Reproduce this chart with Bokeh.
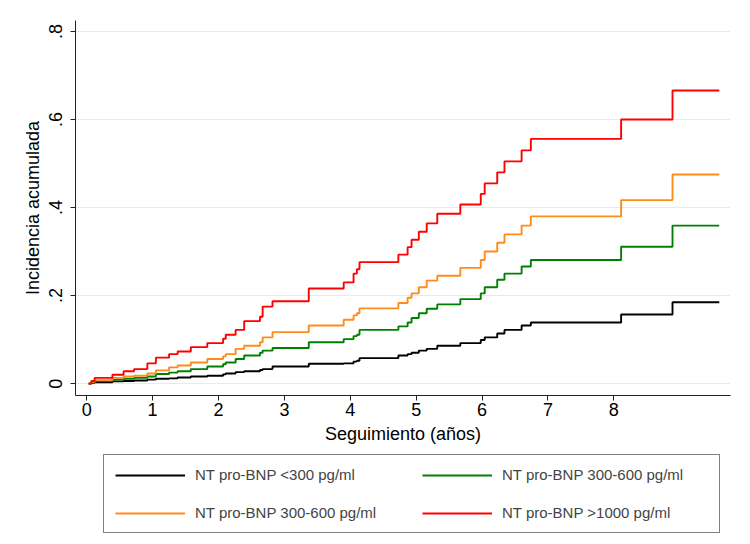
import math
from bokeh.plotting import figure
from bokeh.layouts import column
from bokeh.models import Range1d, Legend, LegendItem, FixedTicker, CustomJSTickFormatter
from bokeh.embed import file_html
from bokeh.resources import INLINE

# step times (years) - value after each step; last entry is end of follow-up
times = [0.03, 0.07, 0.12, 0.39, 0.56, 0.72, 0.92, 1.05, 1.25, 1.38,
         1.58, 1.83, 2.07, 2.11, 2.26, 2.39, 2.63, 2.67, 2.82, 3.37,
         3.90, 4.05, 4.10, 4.14, 4.73, 4.87, 4.93, 5.04, 5.16, 5.32,
         5.67, 5.98, 6.04, 6.23, 6.34, 6.60, 6.74, 8.11, 8.89, 9.60]

black_vals = [0, 0.002, 0.003, 0.005, 0.006, 0.007, 0.009, 0.011, 0.012, 0.014,
              0.016, 0.018, 0.021, 0.023, 0.026, 0.028, 0.031, 0.033, 0.039, 0.045,
              0.046, 0.050, 0.052, 0.058, 0.064, 0.067, 0.070, 0.075, 0.079, 0.086,
              0.092, 0.099, 0.105, 0.114, 0.122, 0.132, 0.139, 0.157, 0.185, 0.185]

green_vals = [0, 0.003, 0.006, 0.009, 0.011, 0.013, 0.016, 0.022, 0.025, 0.028,
              0.033, 0.039, 0.044, 0.048, 0.056, 0.064, 0.070, 0.075, 0.081, 0.094,
              0.101, 0.108, 0.111, 0.122, 0.130, 0.139, 0.149, 0.160, 0.170, 0.180,
              0.192, 0.205, 0.219, 0.236, 0.250, 0.266, 0.281, 0.311, 0.359, 0.359]

orange_vals = [0, 0.004, 0.008, 0.013, 0.016, 0.018, 0.023, 0.030, 0.037, 0.041,
               0.048, 0.056, 0.062, 0.067, 0.079, 0.086, 0.094, 0.105, 0.117, 0.132,
               0.145, 0.155, 0.160, 0.171, 0.183, 0.195, 0.205, 0.219, 0.234, 0.245,
               0.263, 0.281, 0.300, 0.320, 0.339, 0.359, 0.380, 0.417, 0.475, 0.475]

red_vals = [0, 0.006, 0.013, 0.020, 0.028, 0.033, 0.046, 0.059, 0.067, 0.073,
            0.083, 0.092, 0.102, 0.111, 0.122, 0.142, 0.152, 0.175, 0.187, 0.216,
            0.230, 0.250, 0.260, 0.276, 0.293, 0.310, 0.327, 0.345, 0.364, 0.386,
            0.407, 0.431, 0.455, 0.480, 0.505, 0.530, 0.556, 0.600, 0.666, 0.666]

series_labels = ["NT pro-BNP <300 pg/ml", "NT pro-BNP 300-600 pg/ml",
                 "NT pro-BNP 300-600 pg/ml", "NT pro-BNP >1000 pg/ml"]
series_colors = ["#000000", "#008000", "#ff8c1a", "#ff0000"]
series_vals = [black_vals, green_vals, orange_vals, red_vals]

x_ticks = [0, 1, 2, 3, 4, 5, 6, 7, 8]
y_ticks = [0, 0.2, 0.4, 0.6, 0.8]

FONT = "Liberation Sans"

p = figure(width=742, height=450, output_backend="svg", toolbar_location=None,
           x_range=Range1d(-0.17, 9.77), y_range=Range1d(-0.027, 0.825),
           min_border_left=75, min_border_right=12, min_border_top=20,
           min_border_bottom=55)
p.background_fill_color = "white"
p.border_fill_color = "white"
p.outline_line_color = None

for vals, col in zip(series_vals, series_colors):
    p.step(x=times, y=vals, mode="after", line_color=col, line_width=1.9)

p.xgrid.visible = False
p.ygrid.grid_line_color = "#e3ebef"
p.ygrid.grid_line_width = 1

p.xaxis.ticker = FixedTicker(ticks=x_ticks)
p.yaxis.ticker = FixedTicker(ticks=y_ticks)
p.yaxis.formatter = CustomJSTickFormatter(
    code="return tick == 0 ? '0' : tick.toFixed(1).replace(/^0/, '');")

for ax in (p.xaxis[0], p.yaxis[0]):
    ax.axis_line_color = "#222222"
    ax.major_tick_line_color = "#222222"
    ax.major_tick_out = 5
    ax.major_tick_in = 0
    ax.minor_tick_line_color = None
    ax.major_label_text_font = FONT
    ax.major_label_text_font_size = "18px"
    ax.major_label_text_color = "black"
    ax.axis_label_text_font = FONT
    ax.axis_label_text_font_size = "18px"
    ax.axis_label_text_font_style = "normal"
    ax.axis_label_text_color = "black"

p.xaxis.axis_label = "Seguimiento (años)"
p.yaxis.axis_label = "Incidencia acumulada"
p.yaxis.major_label_orientation = "vertical"
p.xaxis.major_label_standoff = 2
p.xaxis.axis_label_standoff = 5
p.yaxis.major_label_standoff = 8
p.yaxis.axis_label_standoff = 4

# legend panel (separate figure below the plot)
lg = figure(width=742, height=86, output_backend="svg", toolbar_location=None,
            x_axis_location=None, y_axis_location=None,
            x_range=Range1d(0, 1), y_range=Range1d(0, 1),
            min_border_left=75, min_border_right=12, min_border_top=0,
            min_border_bottom=0)
lg.outline_line_color = None
lg.grid.visible = False
lg.background_fill_color = "white"
lg.border_fill_color = "white"

key_renderers = []
for col in series_colors:
    key_renderers.append(lg.line(x=[math.nan], y=[math.nan], line_color=col, line_width=1.9))

items = [LegendItem(label=lab, renderers=[r]) for lab, r in zip(series_labels, key_renderers)]
legend = Legend(items=items, location=(28, 3), orientation="horizontal", ncols=2,
                glyph_width=70, glyph_height=16, label_height=16, label_width=206,
                label_standoff=10, spacing=21, padding=11, margin=0,
                label_text_font=FONT, label_text_font_size="15px",
                border_line_color="black", border_line_width=1,
                background_fill_color="white", background_fill_alpha=1.0)
lg.add_layout(legend, "center")

layout = column(p, lg, spacing=0)
open("out.html", "w").write(file_html(layout, INLINE))
